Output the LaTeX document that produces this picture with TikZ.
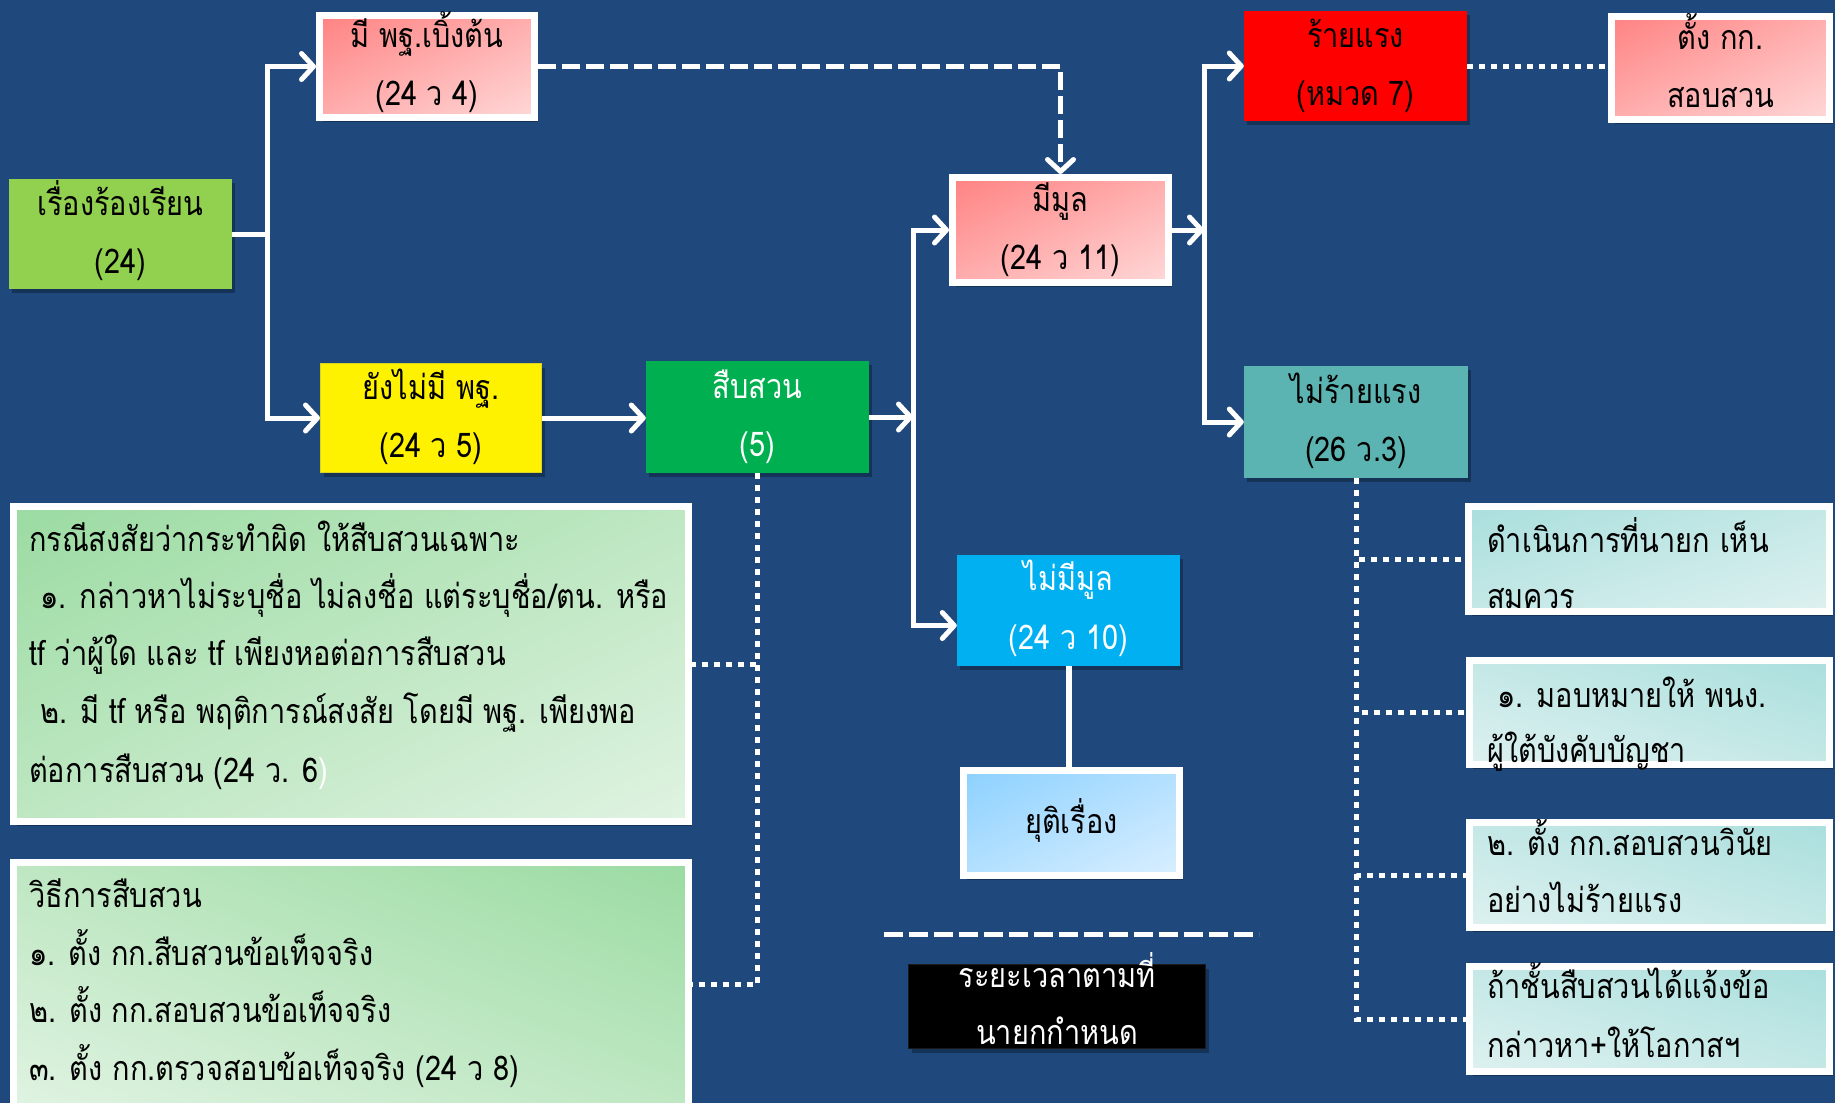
\documentclass[tikz,border=0pt]{standalone}
\usepackage{fontspec}
\newfontfamily\thai[Script=Thai,FakeStretch=0.85]{Loma}
\newcommand\thf{\thai\fontsize{34}{40}\selectfont}
\usetikzlibrary{arrows.meta,shadings,shadows}
\definecolor{bg}{HTML}{1F497D}
\definecolor{lgreen}{HTML}{92D050}
\definecolor{dgreen}{HTML}{00B050}
\definecolor{tealc}{HTML}{5BB4B1}
\definecolor{cyanc}{HTML}{00B0F0}
\definecolor{pinkA}{HTML}{FF8282}
\definecolor{pinkM}{HTML}{FFADAD}
\definecolor{pinkB}{HTML}{FFD8D8}
\definecolor{blueA}{HTML}{8CD1FF}
\definecolor{blueM}{HTML}{B3E0FF}
\definecolor{blueB}{HTML}{D9EFFF}
\definecolor{grA}{HTML}{9BDBA2}
\definecolor{grM}{HTML}{BEE7C2}
\definecolor{grB}{HTML}{E0F3E2}
\definecolor{tlA}{HTML}{A9DFDD}
\definecolor{tlM}{HTML}{C4E8E6}
\definecolor{tlB}{HTML}{DDF1F0}
\tikzset{
  boxbase/.style={rectangle, inner sep=0pt,
    drop shadow={shadow xshift=3pt, shadow yshift=-4pt, opacity=0.3, fill=black}},
  flatbox/.style={boxbase, fill=#1},
  bevel/.style={boxbase, draw=white, line width=7pt, shade},
  pinkbox/.style={bevel, upper left=pinkA, upper right=pinkM, lower left=pinkM, lower right=pinkB},
  bluebox/.style={bevel, upper left=blueA, upper right=blueM, lower left=blueM, lower right=blueB},
  greenboxA/.style={bevel, upper left=grA, upper right=grM, lower left=grM, lower right=grB},
  greenboxB/.style={bevel, upper left=grM, upper right=grA, lower left=grB, lower right=grM},
  tealboxA/.style={bevel, upper left=tlA, upper right=tlM, lower left=tlM, lower right=tlB},
  tealboxB/.style={bevel, upper left=tlM, upper right=tlA, lower left=tlB, lower right=tlM},
  lbl/.style={font=\thf, inner sep=0pt, anchor=base, text=black},
  lbll/.style={lbl, anchor=base west},
  conn/.style={draw=white, line width=5pt},
  arr/.style={conn, -{Straight Barb[length=12pt,width=26pt,line width=5pt,round]}},
  dasharr/.style={arr, dash pattern=on 18pt off 6pt},
  dotline/.style={draw=white, line width=5pt, dash pattern=on 6pt off 6pt},
  dashline/.style={draw=white, line width=5pt, dash pattern=on 19pt off 6pt}
}
\begin{document}
\begin{tikzpicture}[x=1pt,y=-1pt]
\useasboundingbox (0,0) rectangle (1835,1103);
\clip (0,0) rectangle (1835,1103);
\fill[bg] (0,0) rectangle (1835,1103);

% boxes
\node[flatbox=lgreen, minimum width=223pt, minimum height=110pt] (b1) at (120.5,234) {};
\node[pinkbox, minimum width=215pt, minimum height=102pt] (b2) at (427,66.5) {};
\node[flatbox=yellow, draw=yellow!85!black, line width=1pt, minimum width=221pt, minimum height=109pt] (b3) at (431,418) {};
\node[flatbox=dgreen, minimum width=223pt, minimum height=112pt] (b4) at (757.5,417) {};
\node[greenboxA, minimum width=675pt, minimum height=315pt] (b5) at (351,664) {};
\node[greenboxB, minimum width=675pt, minimum height=244pt] (b6) at (351,984.5) {};
\node[pinkbox, minimum width=216pt, minimum height=105pt] (b7) at (1060.5,230) {};
\node[flatbox=red, minimum width=223pt, minimum height=110pt] (b8) at (1355.5,66) {};
\node[pinkbox, minimum width=218pt, minimum height=103pt] (b9) at (1720.5,68) {};
\node[flatbox=tealc, minimum width=224pt, minimum height=112pt] (b10) at (1356,422) {};
\node[tealboxA, minimum width=361pt, minimum height=105pt] (b11) at (1649,559) {};
\node[tealboxB, minimum width=360pt, minimum height=104pt] (b12) at (1649.5,712.5) {};
\node[tealboxB, minimum width=360pt, minimum height=105pt] (b13) at (1649.5,875) {};
\node[tealboxB, minimum width=360pt, minimum height=105pt] (b14) at (1649.5,1019) {};
\node[flatbox=cyanc, minimum width=223pt, minimum height=111pt] (b15) at (1068.5,610.5) {};
\node[bluebox, minimum width=216pt, minimum height=105pt] (b16) at (1071.5,823) {};
\node[flatbox=black, draw=black!90!white, line width=1pt, minimum width=297pt, minimum height=84pt] (b17) at (1057,1006.5) {};

% texts
\node[lbl] (t1a) at (120.5,215) {เรื่องร้องเรียน};
\node[lbl] (t1b) at (120.5,273) {(24)};
\node[lbl] (t2a) at (427,47.5) {มี พฐ.เบิ้งต้น};
\node[lbl] (t2b) at (427,105.5) {(24 ว 4)};
\node[lbl] (t3a) at (431,399) {ยังไม่มี พฐ.};
\node[lbl] (t3b) at (431,457) {(24 ว 5)};
\node[lbl, text=white] (t4a) at (757.5,398) {สืบสวน};
\node[lbl, text=white] (t4b) at (757.5,456) {(5)};
\node[lbl] (t7a) at (1060.5,211) {มีมูล};
\node[lbl] (t7b) at (1060.5,269) {(24 ว 11)};
\node[lbl] (t8a) at (1355.5,47) {ร้ายแรง};
\node[lbl] (t8b) at (1355.5,105) {(หมวด 7)};
\node[lbl] (t9a) at (1720.5,49) {ตั้ง กก.};
\node[lbl] (t9b) at (1720.5,107) {สอบสวน};
\node[lbl] (t10a) at (1356,403) {ไม่ร้ายแรง};
\node[lbl] (t10b) at (1356,461) {(26 ว.3)};
\node[lbl, text=white] (t15a) at (1068.5,590) {ไม่มีมูล};
\node[lbl, text=white] (t15b) at (1068.5,649) {(24 ว 10)};
\node[lbl] (t16) at (1071.5,833) {ยุติเรื่อง};
\node[lbl, text=white] (t17a) at (1057,987) {ระยะเวลาตามที่};
\node[lbl, text=white] (t17b) at (1057,1044) {นายกกำหนด};

\node[lbll] (t5a) at (29,551) {กรณีสงสัยว่ากระทำผิด ให้สืบสวนเฉพาะ};
\node[lbll] (t5b) at (40,608) {๑. กล่าวหาไม่ระบุชื่อ ไม่ลงชื่อ แต่ระบุชื่อ/ตน. หรือ};
\node[lbll] (t5c) at (29,665) {tf ว่าผู้ใด และ tf เพียงหอต่อการสืบสวน};
\node[lbll] (t5d) at (40,723) {๒. มี tf หรือ พฤติการณ์สงสัย โดยมี พฐ. เพียงพอ};
\node[lbll] (t5e) at (29,782) {ต่อการสืบสวน (24 ว. 6{\color{white})}};

\node[lbll] (t6a) at (29,907) {วิธีการสืบสวน};
\node[lbll] (t6b) at (29,965) {๑. ตั้ง กก.สืบสวนข้อเท็จจริง};
\node[lbll] (t6c) at (29,1022) {๒. ตั้ง กก.สอบสวนข้อเท็จจริง};
\node[lbll] (t6d) at (29,1080) {๓. ตั้ง กก.ตรวจสอบข้อเท็จจริง (24 ว 8)};

\node[lbll] (t11a) at (1487,552) {ดำเนินการที่นายก เห็น};
\node[lbll] (t11b) at (1487,608) {สมควร};
\node[lbll] (t12a) at (1497,707) {๑. มอบหมายให้ พนง.};
\node[lbll] (t12b) at (1487,762) {ผู้ใต้บังคับบัญชา};
\node[lbll] (t13a) at (1487,855) {๒. ตั้ง กก.สอบสวนวินัย};
\node[lbll] (t13b) at (1487,912) {อย่างไม่ร้ายแรง};
\node[lbll] (t14a) at (1487,998) {ถ้าชั้นสืบสวนได้แจ้งข้อ};
\node[lbll] (t14b) at (1487,1057) {กล่าวหา+ให้โอกาสฯ};

% connectors
\coordinate (bus1) at (267,234);
\coordinate (bus2) at (913,417);
\coordinate (bus3) at (1204,230);
\draw[conn] (b1.east) -- (bus1);
\draw[arr] (bus1) |- (b2.west);
\draw[arr] (bus1) |- (b3.west);
\draw[arr] (b3.east) -- (b3.east -| b4.west);
\draw[arr] (b4.east) -- (bus2);
\draw[arr] (bus2) |- (b7.west);
\draw[arr] (bus2) |- ([yshift=-15pt]b15.west);
\draw[arr] (b7.east) -- (bus3);
\draw[arr] (bus3) |- (b8.west);
\draw[arr] (bus3) |- (b10.west);
\draw[dasharr] (b2.east) -| (b7.north);
\draw[dotline] (b8.east) -- (b8.east -| b9.west);
\draw[conn, line width=6pt] (b15.south) -- (b15.south |- b16.north);
\draw[dotline] (b4.south) |- (b5.east);
\draw[dotline] (b4.south) |- (b6.east);
\draw[dotline] (b10.south) |- (b11.west);
\draw[dotline] (b10.south) |- (b12.west);
\draw[dotline] (b10.south) |- (b13.west);
\draw[dotline] (b10.south) |- (b14.west);
\coordinate (tl1) at (884,934);
\coordinate (tl2) at (1259,934);
\draw[dashline] (tl1) -- (tl2);
\end{tikzpicture}
\end{document}
